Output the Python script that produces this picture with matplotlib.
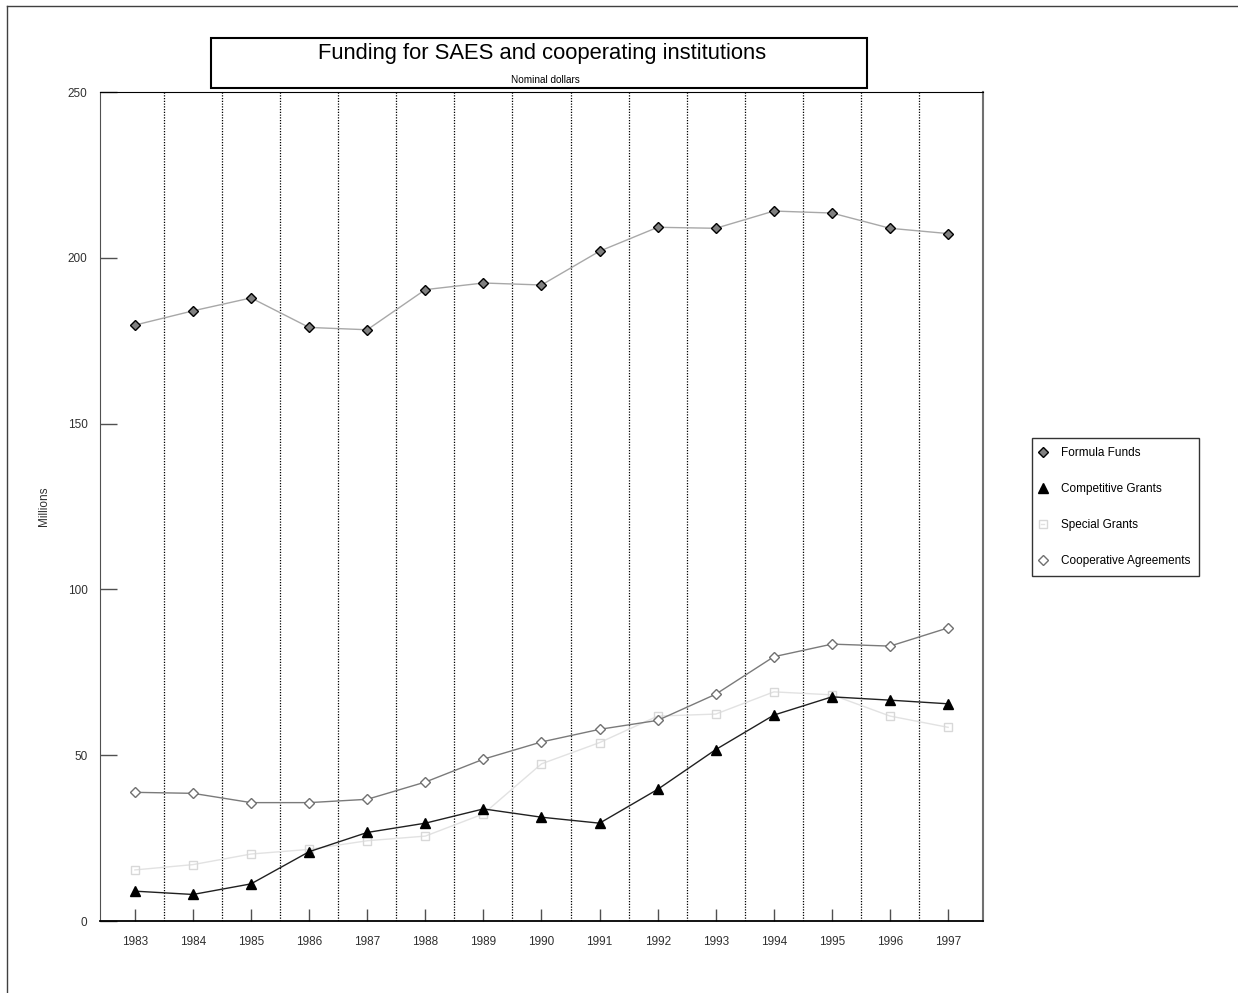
import matplotlib
matplotlib.use("Agg")
import matplotlib.pyplot as plt
from matplotlib.patches import Rectangle
from matplotlib.lines import Line2D

plt.rcParams['font.family'] = ['Liberation Sans', 'DejaVu Sans']

years = list(range(1983, 1998))
formula_funds = [179.7, 184.0, 187.9, 179.0, 178.3, 190.4, 192.4, 191.8,
                 202.0, 209.2, 208.9, 214.1, 213.5, 208.9, 207.3]
competitive_grants = [9.0, 8.0, 11.2, 20.9, 26.7, 29.5, 33.8, 31.3,
                      29.5, 39.7, 51.7, 62.1, 67.6, 66.6, 65.5]
special_grants = [15.4, 17.0, 20.2, 21.6, 24.2, 25.6, 32.3, 47.4,
                  53.8, 61.8, 62.4, 69.1, 68.2, 61.8, 58.4]
coop_agreements = [38.8, 38.5, 35.7, 35.7, 36.7, 41.9, 48.8, 54.0,
                   57.8, 60.5, 68.4, 79.7, 83.5, 82.9, 88.4]
series_names = ['Formula Funds', 'Competitive Grants', 'Special Grants',
                'Cooperative Agreements']
y_ticks = [0, 50, 100, 150, 200, 250]

W, H = 1238, 993
fig = plt.figure(figsize=(W / 100, H / 100), dpi=100)
ax = fig.add_axes([100 / W, 1 - 921 / H, 883 / W, 829 / H])

# outer frame (partly off the page)
fig.add_artist(Line2D([7 / W, 7 / W], [0, 1 - 6 / H], transform=fig.transFigure,
                      color='#404040', lw=1))
fig.add_artist(Line2D([7 / W, 1], [1 - 6 / H, 1 - 6 / H], transform=fig.transFigure,
                      color='#404040', lw=1))

# title box
fig.add_artist(Rectangle((211 / W, 1 - 88 / H), 656 / W, 50 / H,
                         transform=fig.transFigure, fill=False,
                         edgecolor='black', lw=1.5))
fig.text(542 / W, 1 - 54 / H, 'Funding for SAES and cooperating institutions',
         ha='center', va='center', fontsize=15.8)
fig.text(545 / W, 1 - 80 / H, 'Nominal dollars', ha='center', va='center',
         fontsize=7.2)

# year separators
for yr in years[:-1]:
    ax.axvline(yr + 0.5, color='black', lw=0.9, ls=(0, (1, 1.2)), zorder=1)

l1, = ax.plot(years, formula_funds, color='#a8a8a8', lw=1, marker='D', ms=5,
              mfc='#808080', mec='black', mew=1, zorder=3)
l2, = ax.plot(years, competitive_grants, color='#202020', lw=1, marker='^', ms=7,
              mfc='black', mec='black', zorder=4)
l3, = ax.plot(years, special_grants, color='#e2e2e2', lw=1, marker='s', ms=6,
              mfc='none', mec='#d8d8d8', mew=1, zorder=2)
l4, = ax.plot(years, coop_agreements, color='#7a7a7a', lw=1, marker='D', ms=5.5,
              mfc='white', mec='#707070', mew=1, zorder=3)

ax.set_xlim(years[0] - 0.6, years[-1] + 0.6)
ax.set_ylim(0, 250)
ax.set_xticks(years)
ax.set_xticklabels([str(y) for y in years])
ax.set_yticks(y_ticks)
ax.tick_params(axis='y', direction='in', length=12, width=1, color='#505050',
               pad=9, labelsize=8.5, labelcolor='#303030')
ax.tick_params(axis='x', direction='in', length=9, width=1, color='#505050',
               pad=11, labelsize=8.5, labelcolor='#303030')
ax.spines['left'].set_color('#505050')
ax.spines['right'].set_color('#707070')
ax.spines['right'].set_linewidth(1.5)
ax.spines['top'].set_color('black')
ax.spines['bottom'].set_color('black')
ax.spines['bottom'].set_linewidth(1.3)
ax.set_ylabel('Millions', fontsize=8.5, color='#303030', labelpad=13)

leg = fig.legend([l1, l2, l3, l4], series_names, loc='center left',
                 bbox_to_anchor=(1032 / W, 1 - 507 / H), fontsize=8.5,
                 frameon=True, fancybox=False, edgecolor='black',
                 handlelength=0.3, handletextpad=1.37, labelspacing=2.05,
                 borderpad=0.75, borderaxespad=0)
leg.get_frame().set_linewidth(1)

fig.savefig('out.png', dpi=100)
